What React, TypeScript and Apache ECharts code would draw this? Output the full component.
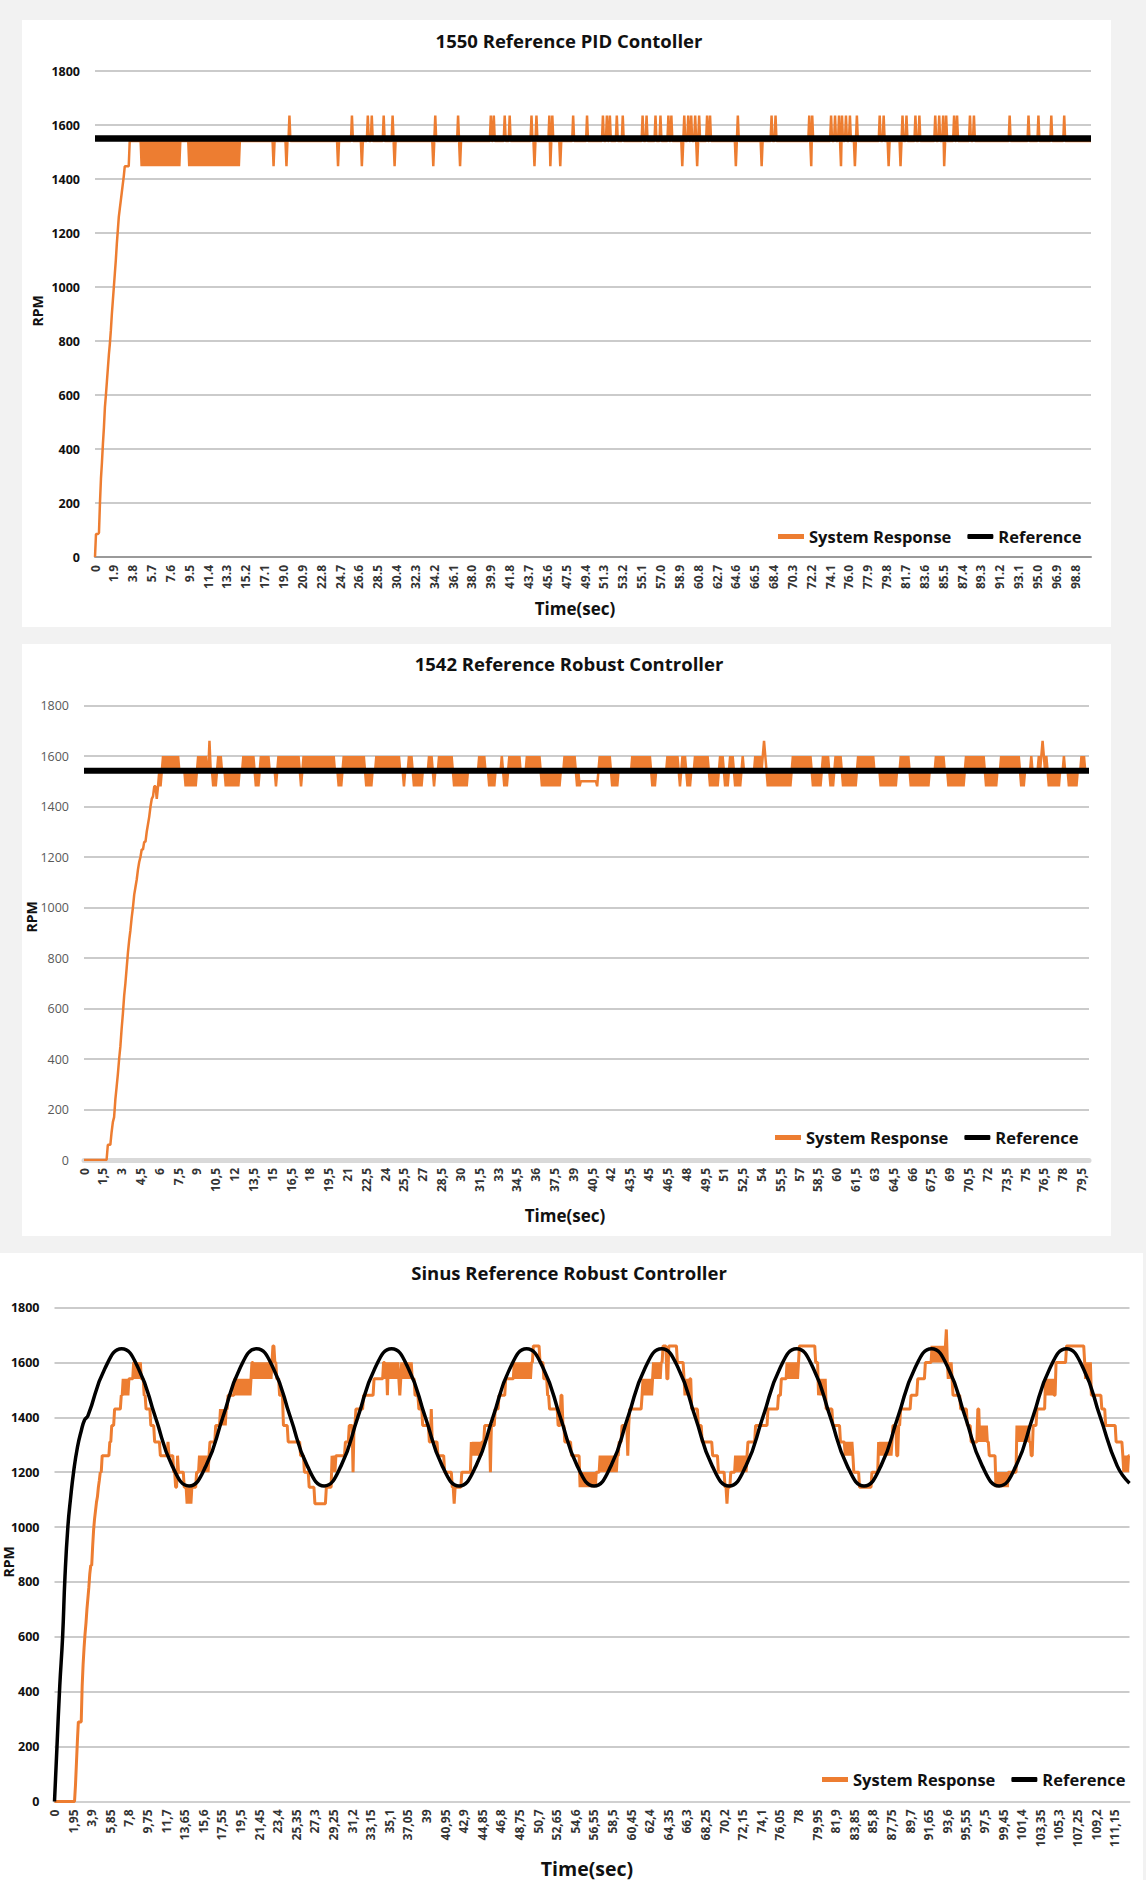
import React, { useEffect, useRef } from "react";
import * as echarts from "echarts";

const FONT = '"Open Sans", "Noto Sans", "DejaVu Sans", sans-serif';
const ORANGE = "#ED7D31";
const BLACK = "#000000";

// ---------------- Chart 1 : 1550 Reference PID Contoller ----------------
const pidTitle = "1550 Reference PID Contoller";
const pidTimeMax = 100.4;
const pidTickStep = 1.9;
const pidTickLabels = ["0", "1.9", "3.8", "5.7", "7.6", "9.5", "11.4", "13.3", "15.2", "17.1", "19.0", "20.9", "22.8", "24.7", "26.6", "28.5", "30.4", "32.3", "34.2", "36.1", "38.0", "39.9", "41.8", "43.7", "45.6", "47.5", "49.4", "51.3", "53.2", "55.1", "57.0", "58.9", "60.8", "62.7", "64.6", "66.5", "68.4", "70.3", "72.2", "74.1", "76.0", "77.9", "79.8", "81.7", "83.6", "85.5", "87.4", "89.3", "91.2", "93.1", "95.0", "96.9", "98.8"];
const pidReference = [[0, 1550], [100.4, 1550]];
// level changes [time, rpm]
const pidSteps = [[0, 0], [0.1, 85], [0.4, 90], [0.5, 200], [0.6, 290], [0.7, 350], [0.8, 420], [0.9, 480], [1.0, 555], [1.1, 600], [1.2, 650], [1.3, 700], [1.4, 750], [1.5, 790], [1.6, 840], [1.7, 900], [1.8, 950], [1.9, 1000], [2.0, 1050], [2.1, 1100], [2.2, 1160], [2.3, 1210], [2.4, 1260], [2.5, 1290], [2.6, 1320], [2.7, 1350], [2.8, 1380], [2.9, 1410], [3.0, 1447], [3.5, 1541]];
// sample-to-sample oscillation bands [from, to, other level]
const pidChatter = [[4.7, 8.6, 1447], [9.4, 14.6, 1447]];
const pidUpSpikeTimes = [19.6, 25.9, 27.5, 27.9, 29.1, 30.0, 34.3, 36.6, 39.9, 40.2, 41.3, 41.8, 44.0, 44.5, 45.8, 46.1, 48.2, 49.6, 51.2, 51.6, 51.9, 52.6, 53.2, 55.2, 55.6, 56.5, 57.0, 57.8, 58.1, 59.4, 59.8, 60.1, 60.5, 60.9, 61.7, 62.0, 64.8, 68.2, 68.6, 72.0, 72.3, 74.2, 74.6, 75.0, 75.3, 75.7, 76.1, 76.8, 79.1, 79.5, 81.4, 81.8, 82.7, 83.1, 84.7, 85.1, 85.5, 85.8, 86.6, 86.9, 88.2, 88.6, 92.2, 94.1, 95.1, 96.4, 97.7];
const pidDownSpikeTimes = [18.0, 19.3, 24.5, 26.9, 30.2, 34.1, 36.8, 44.3, 45.9, 46.9, 59.2, 60.7, 64.6, 67.2, 72.2, 75.2, 76.6, 80.0, 81.2, 85.6];
const pidHigh = 1635;
const pidLow = 1447;

// ---------------- Chart 2 : 1542 Reference Robust Controller ----------------
const robTitle = "1542 Reference Robust Controller";
const robTimeMax = 80.1;
const robTickStep = 1.5;
const robTickLabels = ["0", "1,5", "3", "4,5", "6", "7,5", "9", "10,5", "12", "13,5", "15", "16,5", "18", "19,5", "21", "22,5", "24", "25,5", "27", "28,5", "30", "31,5", "33", "34,5", "36", "37,5", "39", "40,5", "42", "43,5", "45", "46,5", "48", "49,5", "51", "52,5", "54", "55,5", "57", "58,5", "60", "61,5", "63", "64,5", "66", "67,5", "69", "70,5", "72", "73,5", "75", "76,5", "78", "79,5"];
const robReference = [[0, 1542], [80.1, 1542]];
const robSteps = [[0, 0], [1.9, 60], [2.2, 110], [2.3, 150], [2.4, 170], [2.5, 240], [2.6, 290], [2.7, 340], [2.8, 400], [2.9, 450], [3.0, 520], [3.1, 580], [3.2, 650], [3.3, 700], [3.4, 760], [3.5, 820], [3.6, 870], [3.7, 910], [3.8, 960], [3.9, 1000], [4.0, 1050], [4.1, 1080], [4.2, 1110], [4.3, 1150], [4.4, 1180], [4.5, 1200], [4.6, 1230], [4.8, 1260], [5.0, 1300], [5.1, 1330], [5.2, 1360], [5.3, 1400], [5.4, 1430], [5.5, 1440], [5.6, 1480], [5.8, 1430], [5.9, 1540], [39.6, 1500], [40.85, 1540]];
const robChatter = [[5.9, 6.3, 1480], [6.3, 7.7, 1600], [7.95, 9.0, 1480], [9.1, 9.75, 1600], [10.25, 10.55, 1480], [10.65, 11.05, 1600], [11.3, 12.35, 1480], [12.6, 13.6, 1600], [13.6, 14.05, 1480], [14.05, 14.9, 1600], [15.2, 15.45, 1480], [15.45, 17.25, 1600], [17.25, 17.5, 1480], [17.5, 20.1, 1600], [20.2, 20.6, 1480], [20.6, 22.4, 1600], [22.4, 23.05, 1480], [23.2, 25.25, 1600], [25.35, 25.55, 1480], [25.75, 26.3, 1600], [26.3, 27.05, 1480], [27.45, 27.85, 1600], [27.85, 28.1, 1480], [28.25, 29.4, 1600], [29.4, 30.7, 1480], [31.35, 32.0, 1600], [32.2, 32.75, 1480], [33.25, 33.5, 1600], [33.5, 33.8, 1480], [33.8, 34.8, 1600], [35.3, 36.45, 1600], [36.45, 38.0, 1480], [38.15, 39.2, 1600], [39.2, 39.6, 1480], [40.85, 41.0, 1480], [41.0, 42.05, 1600], [42.05, 42.55, 1480], [43.6, 45.15, 1600], [45.15, 45.65, 1480], [46.45, 47.35, 1600], [47.35, 47.6, 1480], [47.6, 48.0, 1600], [48.0, 48.5, 1480], [48.6, 49.8, 1600], [49.8, 50.7, 1480], [50.7, 50.95, 1600], [50.95, 51.35, 1480], [51.35, 51.85, 1600], [51.85, 52.4, 1480], [52.4, 52.65, 1600], [53.5, 54.45, 1600], [54.45, 56.5, 1480], [56.5, 57.95, 1600], [57.95, 58.85, 1480], [58.85, 59.35, 1600], [59.35, 59.85, 1480], [59.85, 60.4, 1600], [60.4, 61.65, 1480], [61.65, 62.95, 1600], [63.35, 64.75, 1480], [65.05, 65.9, 1600], [65.9, 67.35, 1480], [67.75, 68.65, 1600], [68.9, 70.2, 1480], [70.2, 71.9, 1600], [71.9, 72.8, 1480], [72.95, 73.15, 1600], [73.15, 73.3, 1480], [73.3, 74.6, 1600], [74.6, 75.1, 1480], [75.35, 75.65, 1600], [76.05, 76.9, 1600], [76.9, 77.8, 1480], [77.95, 78.2, 1600], [78.45, 79.25, 1480], [79.5, 79.75, 1600], [79.95, 80.1, 1480]];
const robSpikes = [[10.0, 1660], [54.2, 1660], [76.4, 1660]];

// ---------------- Chart 3 : Sinus Reference Robust Controller ----------------
const sinTitle = "Sinus Reference Robust Controller";
const sinTimeMax = 112.7;
const sinTickStep = 1.95;
const sinTickLabels = ["0", "1,95", "3,9", "5,85", "7,8", "9,75", "11,7", "13,65", "15,6", "17,55", "19,5", "21,45", "23,4", "25,35", "27,3", "29,25", "31,2", "33,15", "35,1", "37,05", "39", "40,95", "42,9", "44,85", "46,8", "48,75", "50,7", "52,65", "54,6", "56,55", "58,5", "60,45", "62,4", "64,35", "66,3", "68,25", "70,2", "72,15", "74,1", "76,05", "78", "79,95", "81,9", "83,85", "85,8", "87,75", "89,7", "91,65", "93,6", "95,55", "97,5", "99,45", "101,4", "103,35", "105,3", "107,25", "109,2", "111,15"];
const sinReference = [[0, 0], [0.26, 200], [0.55, 420], [0.85, 600], [1.1, 820], [1.4, 1000], [1.7, 1110], [2.0, 1200], [2.4, 1290], [2.8, 1350], [3.15, 1390], [3.5, 1405], [5.27, 1577], [7.04, 1650], [8.81, 1577], [10.58, 1400], [12.34, 1223], [14.11, 1150], [15.88, 1223], [17.65, 1400], [19.42, 1577], [21.19, 1650], [22.96, 1577], [24.73, 1400], [26.5, 1223], [28.27, 1150], [30.04, 1223], [31.8, 1400], [33.57, 1577], [35.34, 1650], [37.11, 1577], [38.88, 1400], [40.65, 1223], [42.42, 1150], [44.19, 1223], [45.96, 1400], [47.73, 1577], [49.49, 1650], [51.26, 1577], [53.03, 1400], [54.8, 1223], [56.57, 1150], [58.34, 1223], [60.11, 1400], [61.88, 1577], [63.65, 1650], [65.42, 1577], [67.18, 1400], [68.95, 1223], [70.72, 1150], [72.49, 1223], [74.26, 1400], [76.03, 1577], [77.8, 1650], [79.57, 1577], [81.34, 1400], [83.11, 1223], [84.87, 1150], [86.64, 1223], [88.41, 1400], [90.18, 1577], [91.95, 1650], [93.72, 1577], [95.49, 1400], [97.26, 1223], [99.03, 1150], [100.8, 1223], [102.56, 1400], [104.33, 1577], [106.1, 1650], [107.87, 1577], [109.64, 1400], [111.41, 1223], [112.7, 1160]];
const sinSteps = [[0, 0], [2.2, 60], [2.3, 140], [2.4, 220], [2.5, 290], [2.9, 420], [3.0, 500], [3.1, 560], [3.2, 610], [3.3, 650], [3.4, 700], [3.5, 740], [3.6, 780], [3.7, 830], [3.8, 860], [4.0, 930], [4.1, 990], [4.2, 1030], [4.3, 1060], [4.4, 1090], [4.5, 1110], [4.6, 1145], [4.7, 1170], [4.8, 1200], [5.0, 1260], [5.8, 1310], [5.95, 1370], [6.3, 1430], [7.0, 1480], [7.2, 1540], [8.3, 1600], [9.05, 1540], [9.4, 1480], [9.6, 1430], [10.1, 1370], [10.5, 1310], [11.05, 1260], [12.5, 1200], [12.7, 1145], [12.85, 1260], [13.0, 1200], [13.6, 1145], [14.9, 1200], [15.2, 1260], [16.3, 1310], [16.9, 1370], [17.4, 1430], [18.2, 1480], [18.9, 1540], [20.7, 1600], [22.9, 1660], [23.05, 1600], [23.3, 1540], [23.6, 1480], [24.0, 1370], [24.5, 1310], [25.8, 1260], [26.2, 1200], [26.7, 1145], [27.3, 1085], [28.5, 1145], [29.1, 1200], [29.6, 1260], [30.5, 1310], [30.9, 1370], [31.25, 1200], [31.4, 1370], [31.6, 1430], [32.4, 1480], [33.5, 1540], [34.5, 1600], [37.5, 1540], [37.8, 1480], [38.2, 1430], [38.6, 1370], [39.3, 1310], [39.45, 1430], [39.6, 1310], [40.2, 1260], [40.9, 1200], [41.7, 1145], [41.85, 1085], [42.0, 1145], [42.7, 1200], [43.7, 1260], [44.8, 1310], [45.1, 1370], [45.65, 1200], [45.8, 1370], [46.2, 1430], [46.6, 1480], [47.3, 1540], [48.2, 1600], [50.2, 1660], [50.9, 1600], [51.3, 1540], [51.7, 1480], [51.9, 1430], [52.8, 1370], [53.1, 1480], [53.25, 1370], [53.5, 1310], [54.2, 1260], [55.1, 1200], [57.1, 1260], [59.15, 1310], [59.5, 1370], [60.05, 1260], [60.2, 1370], [60.3, 1430], [61.55, 1480], [62.65, 1600], [63.8, 1660], [64.15, 1540], [64.4, 1660], [65.3, 1600], [66.0, 1540], [66.75, 1430], [67.5, 1370], [67.9, 1310], [69.0, 1260], [69.55, 1200], [70.3, 1145], [70.45, 1085], [70.6, 1145], [70.85, 1200], [71.4, 1260], [72.7, 1310], [73.45, 1370], [74.75, 1430], [75.85, 1480], [76.2, 1540], [76.75, 1600], [78.05, 1660], [79.75, 1600], [80.1, 1540], [80.85, 1430], [81.6, 1370], [82.35, 1310], [83.8, 1200], [84.4, 1145], [85.7, 1200], [86.4, 1310], [87.9, 1370], [88.25, 1260], [88.45, 1370], [88.65, 1430], [89.75, 1480], [90.5, 1540], [91.25, 1600], [92.0, 1660], [93.45, 1720], [93.6, 1600], [94.2, 1480], [94.95, 1430], [95.7, 1370], [96.05, 1310], [96.8, 1430], [96.95, 1310], [97.95, 1260], [98.65, 1200], [100.9, 1310], [102.35, 1260], [102.6, 1370], [102.95, 1430], [103.85, 1480], [105.0, 1600], [106.1, 1660], [107.95, 1600], [108.7, 1480], [109.8, 1430], [110.2, 1370], [111.3, 1310], [112.0, 1260]];
const sinChatter = [[7.2, 7.9, 1480], [8.5, 9.0, 1540], [11.8, 12.1, 1310], [13.9, 14.4, 1085], [15.3, 16.3, 1200], [17.4, 18.1, 1370], [19.0, 20.6, 1480], [20.9, 22.8, 1540], [29.1, 29.6, 1260], [34.6, 37.4, 1540], [43.7, 44.7, 1310], [48.3, 50.1, 1540], [55.1, 56.9, 1145], [57.1, 59.0, 1200], [61.6, 62.6, 1540], [62.7, 63.7, 1540], [66.0, 66.7, 1480], [71.4, 72.6, 1200], [76.8, 78.0, 1540], [80.1, 80.8, 1480], [82.9, 83.8, 1260], [86.4, 87.9, 1260], [92.0, 93.4, 1600], [93.6, 94.2, 1540], [97.0, 97.9, 1370], [98.7, 100.1, 1145], [100.9, 102.3, 1370], [103.9, 104.9, 1540], [108.0, 108.6, 1540], [112.0, 112.7, 1200]];
const sinSpikes = [[34.9, 1480], [36.2, 1480]];

const yTicks = [0, 200, 400, 600, 800, 1000, 1200, 1400, 1600, 1800];
const legendNames = ["System Response", "Reference"];

function buildResponse(tMax: number, steps: number[][], chatter: number[][], spikes: number[][]) {
  const sorted = steps.slice().sort((a, b) => a[0] - b[0]);
  const spikeMap = new Map<number, number>();
  spikes.forEach(([t, v]) => spikeMap.set(Math.round(t * 10), v));
  const n = Math.round(tMax * 10);
  const out: number[][] = [];
  let si = 0;
  for (let k = 0; k <= n; k++) {
    const t = k / 10;
    while (si + 1 < sorted.length && sorted[si + 1][0] <= t + 1e-6) si++;
    let v = sorted[si][1];
    for (const [a, b, alt] of chatter) {
      if (t >= a - 1e-6 && t < b - 1e-6 && k % 2 === 1) v = alt;
    }
    const s = spikeMap.get(k);
    if (s !== undefined) v = s;
    out.push([t, v]);
  }
  return out;
}

const pidResponse = buildResponse(
  pidTimeMax,
  pidSteps,
  pidChatter,
  [...pidUpSpikeTimes.map((t) => [t, pidHigh]), ...pidDownSpikeTimes.map((t) => [t, pidLow])]
);
const robResponse = buildResponse(robTimeMax, robSteps, robChatter, robSpikes);
const sinResponse = buildResponse(sinTimeMax, sinSteps, sinChatter, sinSpikes);

const panels = [
  {
    title: pidTitle, titleY: 40, bg: { x: 22, y: 20, w: 1089, h: 607 },
    grid: { left: 95, top: 71, width: 996, height: 486 },
    tMax: pidTimeMax, step: pidTickStep, ticks: pidTickLabels,
    axisLine: { color: "#9a9a9a", width: 2 },
    yLabel: { color: "#111", weight: "bold" },
    rpm: { x: 37, y: 311 }, time: { x: 575, y: 608, size: 17 },
    legend: { left: 778, top: 528 },
    response: pidResponse, reference: pidReference, refWidth: 6.5, refSmooth: false, respWidth: 2.5,
  },
  {
    title: robTitle, titleY: 663, bg: { x: 22, y: 644, w: 1089, h: 592 },
    grid: { left: 84, top: 705.5, width: 1005, height: 454.5 },
    tMax: robTimeMax, step: robTickStep, ticks: robTickLabels,
    axisLine: { color: "#d9d9d9", width: 5 },
    yLabel: { color: "#595959", weight: "normal" },
    rpm: { x: 31, y: 917 }, time: { x: 565, y: 1215, size: 17 },
    legend: { left: 775, top: 1129 },
    response: robResponse, reference: robReference, refWidth: 6, refSmooth: false, respWidth: 2.5,
  },
  {
    title: sinTitle, titleY: 1272, bg: { x: 0, y: 1253, w: 1143, h: 627 },
    grid: { left: 54.5, top: 1307.5, width: 1075, height: 494 },
    tMax: sinTimeMax, step: sinTickStep, ticks: sinTickLabels,
    axisLine: { color: "#d0d0d0", width: 2 },
    yLabel: { color: "#111", weight: "bold" },
    rpm: { x: 8, y: 1562 }, time: { x: 587, y: 1868, size: 19.5 },
    legend: { left: 822, top: 1771 },
    response: sinResponse, reference: sinReference, refWidth: 3.5, refSmooth: true, respWidth: 3,
  },
];

function textEl(text: string, x: number, y: number, font: string, rotation = 0) {
  return {
    type: "text", x, y, rotation, z: 50,
    style: { text, fill: "#111", font, textAlign: "center", textVerticalAlign: "middle", align: "center", verticalAlign: "middle" },
  };
}

function buildOption() {
  const graphic: any[] = [];
  panels.forEach((p) => {
    graphic.push({ type: "rect", z: -10, silent: true, shape: { x: p.bg.x, y: p.bg.y, width: p.bg.w, height: p.bg.h }, style: { fill: "#ffffff" } });
    graphic.push(textEl(p.title, 569, p.titleY, `bold 18.5px ${FONT}`));
    graphic.push(textEl("RPM", p.rpm.x, p.rpm.y, `bold 14px ${FONT}`, Math.PI / 2));
    graphic.push(textEl("Time(sec)", p.time.x, p.time.y, `bold ${p.time.size}px ${FONT}`));
  });

  return {
    animation: false,
    backgroundColor: "#f2f2f2",
    textStyle: { fontFamily: FONT },
    graphic,
    grid: panels.map((p) => ({ ...p.grid, containLabel: false, show: false })),
    xAxis: panels.map((p, i) => ({
      type: "value", gridIndex: i, min: 0, max: p.tMax, interval: p.step,
      axisLine: { show: true, lineStyle: { color: p.axisLine.color, width: p.axisLine.width } },
      axisTick: { show: false },
      splitLine: { show: false },
      axisLabel: {
        rotate: 90, margin: 8, fontSize: 12, fontWeight: "bold", fontFamily: FONT, color: "#333",
        showMaxLabel: false,
        formatter: (v: number) => p.ticks[Math.round(v / p.step)] ?? "",
      },
    })),
    yAxis: panels.map((p, i) => ({
      type: "value", gridIndex: i, min: yTicks[0], max: yTicks[yTicks.length - 1], interval: yTicks[1] - yTicks[0],
      axisLine: { show: false }, axisTick: { show: false },
      splitLine: { show: true, lineStyle: { color: "#cbcbcb", width: 2 } },
      axisLabel: {
        margin: 15, fontSize: 12.5, fontWeight: p.yLabel.weight, color: p.yLabel.color, fontFamily: FONT,
        formatter: (v: number) => String(v),
      },
    })),
    legend: panels.map((p) => ({
      left: p.legend.left, top: p.legend.top, padding: 0, itemGap: 16, itemWidth: 26, itemHeight: 5,
      selectedMode: false,
      textStyle: { fontSize: 16.5, fontWeight: "bold", color: "#111", fontFamily: FONT },
      data: [
        { name: legendNames[0], icon: "rect" },
        { name: legendNames[1], icon: "roundRect" },
      ],
    })),
    series: panels.flatMap((p, i) => [
      {
        name: legendNames[0], type: "line", xAxisIndex: i, yAxisIndex: i, data: p.response,
        showSymbol: false, symbol: "none", color: ORANGE,
        lineStyle: { color: ORANGE, width: p.respWidth }, z: 2,
      },
      {
        name: legendNames[1], type: "line", xAxisIndex: i, yAxisIndex: i, data: p.reference,
        showSymbol: false, symbol: "none", color: BLACK, smooth: p.refSmooth ? 0.5 : false,
        lineStyle: { color: BLACK, width: p.refWidth }, z: 3,
      },
    ]),
  };
}

export default function App() {
  const ref = useRef<HTMLDivElement>(null);
  useEffect(() => {
    if (!ref.current) return;
    const chart = echarts.init(ref.current, undefined, { renderer: "svg" });
    chart.setOption(buildOption() as any);
    return () => chart.dispose();
  }, []);
  return <div ref={ref} style={{ position: "absolute", left: 0, top: 0, width: 1146, height: 1880 }} />;
}
